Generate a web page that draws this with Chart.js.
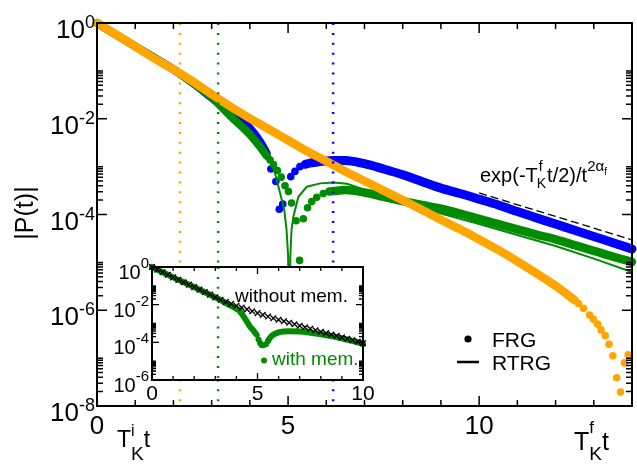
<!DOCTYPE html>
<html>
<head>
<meta charset="utf-8">
<script src="https://cdn.jsdelivr.net/npm/chart.js@4.4.0/dist/chart.umd.min.js"></script>
<style>
html, body { margin: 0; padding: 0; background: #fff; }
#wrap { position: relative; width: 637px; height: 464px; }
#main { position: absolute; left: 0; top: 0; }
#inset { position: absolute; left: 100px; top: 245px; }
</style>
</head>
<body>
<div id="wrap">
<canvas id="main" width="637" height="464"></canvas>
<canvas id="inset" width="285" height="165"></canvas>
</div>
<script>
// ---- main panel: |P(t)| after the quench, FRG (dots) and RTRG (lines)
const orangeBandT = [0, 0.5, 1, 1.5, 2, 2.5, 3, 3.5, 4, 4.5, 5, 5.5, 6, 6.5, 7, 7.5, 8, 8.5, 9, 9.5, 10, 10.5, 11, 11.5, 12, 12.5];
const orangeBandP = [1, 5.75e-1, 3.24e-1, 1.82e-1, 1.07e-1, 6.03e-2, 3.24e-2, 1.78e-2, 1.02e-2, 6.03e-3, 3.55e-3, 2.09e-3, 1.29e-3, 7.94e-4, 5.01e-4, 3.16e-4, 2.0e-4, 1.26e-4, 7.76e-5, 4.90e-5, 3.02e-5, 1.82e-5, 1.05e-5, 5.89e-6, 3.24e-6, 1.62e-6];
const orangeDotT = [12.6, 12.73, 12.89, 12.99, 13.1, 13.19, 13.3, 13.4, 13.5, 13.6, 13.7, 13.8, 13.9];
const orangeDotP = [1.38e-6, 1.10e-6, 7.94e-7, 6.46e-7, 5.13e-7, 3.89e-7, 2.95e-7, 1.95e-7, 1.12e-7, 3.89e-8, 1.95e-8, 7.94e-8, 1.17e-7];

const blueBandT = [0, 1, 2, 2.5, 3, 3.5, 4, 4.3, 4.44];
const blueBandP = [1, 3.24e-1, 1.07e-1, 5.62e-2, 2.75e-2, 1.35e-2, 6.31e-3, 3.02e-3, 1.91e-3];
const blueDotT = [4.55, 4.68, 4.77, 4.86, 5.07, 5.18, 5.31, 5.45];
const blueDotP = [8.91e-4, 4.90e-4, 1.29e-4, 1.66e-4, 6.17e-4, 7.94e-4, 1.0e-3, 1.12e-3];
const blueTailT = [5.45, 5.6, 5.8, 6.2, 6.5, 7, 7.5, 8, 8.5, 9, 9.5, 10, 10.5, 11, 11.5, 12, 12.5, 13, 13.5, 14];
const blueTailP = [1.12e-3, 1.20e-3, 1.26e-3, 1.35e-3, 1.35e-3, 1.15e-3, 8.91e-4, 6.76e-4, 4.90e-4, 3.55e-4, 2.75e-4, 2.09e-4, 1.58e-4, 1.15e-4, 8.51e-5, 6.31e-5, 4.68e-5, 3.47e-5, 2.57e-5, 1.91e-5];

const greenBandT = [0, 1, 2, 2.5, 3, 3.5, 4, 4.3, 4.45];
const greenBandP = [1, 3.24e-1, 1.07e-1, 5.62e-2, 2.82e-2, 1.12e-2, 4.68e-3, 2.40e-3, 1.66e-3];
const greenDotT = [4.53, 4.62, 4.72, 4.82, 4.92, 5.01, 5.09, 5.21, 5.3, 5.4, 5.51, 5.62, 5.75, 5.92, 6.08];
const greenDotP = [1.38e-3, 1.10e-3, 8.32e-4, 6.03e-4, 3.98e-4, 3.02e-4, 1.74e-4, 7.41e-5, 1.10e-5, 8.13e-5, 1.38e-4, 1.86e-4, 2.29e-4, 2.75e-4, 3.02e-4];
const greenTailT = [6.08, 6.2, 6.5, 7, 7.5, 8, 8.5, 9, 9.5, 10, 10.5, 11, 11.5, 12, 12.5, 13, 13.5, 14];
const greenTailP = [3.02e-4, 3.09e-4, 3.24e-4, 2.88e-4, 2.34e-4, 1.91e-4, 1.58e-4, 1.32e-4, 1.05e-4, 8.13e-5, 6.31e-5, 4.90e-5, 3.80e-5, 3.02e-5, 2.29e-5, 1.74e-5, 1.32e-5, 1.02e-5];

const greenLineT = [0, 1, 2, 3, 3.5, 4, 4.3, 4.53, 4.65, 4.75, 4.9, 4.96, 5.0, 5.03, 5.06, 5.09, 5.14, 5.27, 5.49, 5.84, 6.19, 6.54, 7, 7.5, 8, 9, 10, 11, 12, 13, 14];
const greenLineP = [1, 3.24e-1, 1.07e-1, 2.82e-2, 1.12e-2, 4.68e-3, 2.51e-3, 1.38e-3, 7.59e-4, 3.80e-4, 1.26e-4, 4.79e-5, 1.41e-5, 3.16e-7, 1.41e-5, 4.79e-5, 9.12e-5, 2.34e-4, 3.80e-4, 4.47e-4, 4.68e-4, 4.37e-4, 3.31e-4, 2.29e-4, 1.74e-4, 1.05e-4, 6.31e-5, 3.72e-5, 2.19e-5, 1.20e-5, 6.31e-6];

const redLineT = [0, 1, 2, 2.5, 3];
const redLineP = [1, 3.16e-1, 1.0e-1, 5.89e-2, 3.16e-2];

const quenchT = [2.17, 3.17, 6.18];
const quenchColors = ['#ffa500', '#008b00', '#0000ff'];

const guideT = [10, 14];
const guideP = [2.82e-4, 2.95e-5];

const mainXTicks = [0, 5, 10];
const mainYTicks = [0, -2, -4, -6, -8];

// ---- inset: with / without memory
const insetNoMemT = [0, 0.25, 0.5, 0.75, 1, 1.25, 1.5, 1.75, 2, 2.25, 2.5, 2.75, 3, 3.25, 3.5, 3.75, 4, 4.25, 4.5, 4.75, 5, 5.25, 5.5, 5.75, 6, 6.25, 6.5, 6.75, 7, 7.25, 7.5, 7.75, 8, 8.25, 8.5, 8.75, 9, 9.25, 9.5, 9.75, 10];
const insetNoMemP = [1, 7.24e-1, 5.25e-1, 3.89e-1, 2.82e-1, 2.09e-1, 1.55e-1, 1.15e-1, 8.51e-2, 6.31e-2, 4.68e-2, 3.39e-2, 2.45e-2, 1.82e-2, 1.41e-2, 1.10e-2, 8.71e-3, 6.92e-3, 5.62e-3, 4.47e-3, 3.55e-3, 2.88e-3, 2.34e-3, 1.91e-3, 1.58e-3, 1.32e-3, 1.10e-3, 9.12e-4, 7.59e-4, 6.31e-4, 5.25e-4, 4.37e-4, 3.63e-4, 3.09e-4, 2.57e-4, 2.19e-4, 1.82e-4, 1.55e-4, 1.29e-4, 1.10e-4, 9.12e-5];
const insetMemBandT = [0, 1, 2, 3, 3.25, 3.5, 4, 4.17, 4.5, 4.64, 4.8, 4.96];
const insetMemBandP = [1, 2.82e-1, 8.51e-2, 2.45e-2, 1.74e-2, 1.20e-2, 6.03e-3, 4.37e-3, 1.26e-3, 6.92e-4, 4.37e-4, 2.51e-4];
const insetMemDotT = [5.05, 5.12, 5.2, 5.27, 5.31, 5.4, 5.5];
const insetMemDotP = [1.41e-4, 9.12e-5, 7.08e-5, 6.92e-5, 1.10e-5, 7.94e-5, 1.20e-4];
const insetMemTailT = [5.5, 5.6, 5.75, 6, 6.22, 6.5, 7, 7.33, 8, 8.5, 8.91, 9.5, 10];
const insetMemTailP = [1.20e-4, 1.78e-4, 2.51e-4, 3.39e-4, 3.80e-4, 3.89e-4, 3.72e-4, 3.47e-4, 2.69e-4, 2.14e-4, 1.70e-4, 1.20e-4, 8.13e-5];
const insetQuenchT = 3.13;
const insetXTicks = [0, 5, 10];
const insetYTicks = [0, -2, -4, -6];

const ORANGE = '#ffa500', BLUE = '#0000ff', GREEN = '#008b00', RED = '#ff0000';
const FONT = '"Liberation Sans", Arial, sans-serif';

function pts(ts, ps) { return ts.map((t, i) => ({ x: t, y: ps[i] })); }

function band(ts, ps, color, w) {
  return { data: pts(ts, ps), showLine: true, borderColor: color, borderWidth: w,
    borderCapStyle: 'round', borderJoinStyle: 'round', cubicInterpolationMode: 'monotone',
    pointRadius: 0, clip: false };
}
function dots(ts, ps, color, r) {
  return { data: pts(ts, ps), showLine: false, pointRadius: r, pointBackgroundColor: color,
    pointBorderWidth: 0, clip: false };
}
function thin(ts, ps, color, w) {
  return { data: pts(ts, ps), showLine: true, borderColor: color, borderWidth: w,
    pointRadius: 0, tension: 0, clip: false };
}

// frame + inward ticks on all four sides
function drawBox(ctx, a, x, y, o) {
  ctx.strokeStyle = '#000';
  ctx.lineWidth = o.tickW;
  ctx.beginPath();
  for (let v = Math.ceil(x.min); v <= x.max; v++) {
    const px = x.getPixelForValue(v);
    const len = v % 5 === 0 ? o.major : o.minor;
    ctx.moveTo(px, a.bottom); ctx.lineTo(px, a.bottom - len);
    ctx.moveTo(px, a.top); ctx.lineTo(px, a.top + len);
  }
  for (let e = o.ymin; e <= o.ymax; e += 2) {
    const py = y.getPixelForValue(Math.pow(10, e));
    ctx.moveTo(a.left, py); ctx.lineTo(a.left + o.major, py);
    ctx.moveTo(a.right, py); ctx.lineTo(a.right - o.major, py);
    if (e < o.ymax) {
      for (let k = 2; k <= 10; k++) {
        const my = y.getPixelForValue(k * Math.pow(10, e));
        ctx.moveTo(a.left, my); ctx.lineTo(a.left + o.minor, my);
        ctx.moveTo(a.right, my); ctx.lineTo(a.right - o.minor, my);
      }
    }
  }
  ctx.stroke();
  ctx.lineWidth = o.frameW;
  ctx.strokeRect(a.left, a.top, a.right - a.left, a.bottom - a.top);
}

// "10" with exponent, right aligned at xr
function drawPow(ctx, xr, yc, e, big, small, baseDy, supDy) {
  ctx.textAlign = 'left';
  ctx.textBaseline = 'alphabetic';
  ctx.font = small + 'px ' + FONT;
  const sup = String(e);
  const sw = ctx.measureText(sup).width;
  ctx.fillText(sup, xr - sw, yc + supDy);
  ctx.font = big + 'px ' + FONT;
  const bw = ctx.measureText('10').width;
  ctx.fillText('10', xr - sw - bw, yc + baseDy);
}

// runs of text: [text, size, dy, advance?]
function drawRuns(ctx, x, y, runs) {
  ctx.textAlign = 'left';
  ctx.textBaseline = 'alphabetic';
  let cx = x;
  for (const r of runs) {
    ctx.font = r[1] + 'px ' + FONT;
    ctx.fillText(r[0], cx, y + r[2]);
    if (r[3] !== false) cx += ctx.measureText(r[0]).width;
  }
  return cx;
}

const mainDeco = {
  id: 'mainDeco',
  afterDraw(chart) {
    const { ctx, chartArea: a, scales: { x, y } } = chart;
    ctx.save();
    drawBox(ctx, a, x, y, { major: 10, minor: 6, tickW: 1.5, frameW: 2, ymin: -8, ymax: 0 });
    ctx.fillStyle = '#000';
    for (const e of mainYTicks) {
      drawPow(ctx, 95, y.getPixelForValue(Math.pow(10, e)), e, 26, 18, 15, 5);
    }
    ctx.font = '26px ' + FONT;
    ctx.textAlign = 'center';
    for (const v of mainXTicks) ctx.fillText(String(v), x.getPixelForValue(v), a.bottom + 28);

    // axis titles
    ctx.save();
    ctx.translate(26, 213);
    ctx.rotate(-Math.PI / 2);
    ctx.font = '25px ' + FONT;
    ctx.textAlign = 'center';
    ctx.textBaseline = 'middle';
    ctx.fillText('|P(t)|', 0, 0);
    ctx.restore();

    drawRuns(ctx, 117, 447, [['T', 23, 0], ['i', 16, -11, false], ['K', 19, 13], ['t', 23, 0]]);
    drawRuns(ctx, 574, 450, [['T', 25, 0], ['f', 17, -17, false], ['K', 19, 10], ['t', 25, 0]]);

    // guide label
    let cx = drawRuns(ctx, 480, 182, [['exp(-T', 20, 0]]);
    ctx.font = '14px ' + FONT;
    ctx.fillText('f', cx + 1, 171);
    ctx.fillText('K', cx - 1, 188);
    cx += ctx.measureText('K').width;
    cx = drawRuns(ctx, cx, 182, [['t/2)/t', 20, 0], ['2\u03b1', 15, -11]]);
    ctx.font = '10px ' + FONT;
    ctx.fillText('f', cx, 175);

    // legend
    ctx.fillStyle = '#000';
    ctx.beginPath();
    ctx.arc(468, 339, 3.6, 0, Math.PI * 2);
    ctx.fill();
    ctx.lineWidth = 2.5;
    ctx.beginPath();
    ctx.moveTo(457, 362); ctx.lineTo(479, 362);
    ctx.stroke();
    ctx.font = '21px ' + FONT;
    ctx.textAlign = 'left';
    ctx.fillText('FRG', 492, 347);
    ctx.fillText('RTRG', 492, 370);
    ctx.restore();
  }
};

const mainSets = [];
quenchT.forEach((t, i) => {
  mainSets.push({ data: [{ x: t, y: 1 }, { x: t, y: 1e-8 }], showLine: true, borderColor: quenchColors[i],
    borderWidth: 2.5, borderDash: [2, 7.9], pointRadius: 0, clip: false });
});
mainSets.push(dots(orangeDotT, orangeDotP, ORANGE, 3.8));
mainSets.push(band(orangeBandT, orangeBandP, ORANGE, 8.5));
mainSets.push(thin(redLineT, redLineP, RED, 2));
mainSets.push(thin(greenLineT, greenLineP, GREEN, 2));
mainSets.push(dots(greenDotT, greenDotP, GREEN, 3.8));
mainSets.push(band(greenBandT, greenBandP, GREEN, 8));
mainSets.push(band(greenTailT, greenTailP, GREEN, 8.5));
mainSets.push(dots(blueDotT, blueDotP, BLUE, 3.8));
mainSets.push(band(blueBandT, blueBandP, BLUE, 8));
mainSets.push(band(blueTailT, blueTailP, BLUE, 9));
mainSets.push({ data: pts(guideT, guideP), showLine: true, borderColor: '#000', borderWidth: 1.3,
  borderDash: [8, 4], pointRadius: 0 });

new Chart(document.getElementById('main'), {
  type: 'scatter',
  data: { datasets: mainSets },
  options: {
    responsive: false, devicePixelRatio: 1, animation: false, events: [],
    layout: { padding: { left: 97, right: 5, top: 23, bottom: 58 } },
    plugins: { legend: { display: false }, tooltip: { enabled: false } },
    scales: {
      x: { type: 'linear', min: 0, max: 14, display: false },
      y: { type: 'logarithmic', min: 1e-8, max: 1, display: false }
    }
  },
  plugins: [mainDeco]
});

const insetDeco = {
  id: 'insetDeco',
  beforeDatasetsDraw(chart) {
    const { ctx, chartArea: a } = chart;
    ctx.save();
    ctx.fillStyle = '#fff';
    ctx.fillRect(a.left - 1, a.top - 1, a.right - a.left + 2, a.bottom - a.top + 2);
    ctx.restore();
  },
  afterDraw(chart) {
    const { ctx, chartArea: a, scales: { x, y } } = chart;
    ctx.save();
    drawBox(ctx, a, x, y, { major: 7, minor: 4, tickW: 1.3, frameW: 2, ymin: -6, ymax: 0 });
    ctx.fillStyle = '#000';
    for (const e of insetYTicks) {
      drawPow(ctx, a.left - 3, y.getPixelForValue(Math.pow(10, e)), e, 20, 15, 12, 1);
    }
    ctx.font = '21px ' + FONT;
    ctx.textAlign = 'center';
    for (const v of insetXTicks) ctx.fillText(String(v), x.getPixelForValue(v), a.bottom + 20);
    ctx.textAlign = 'left';
    ctx.font = '19px ' + FONT;
    ctx.fillText('without mem.', a.left + 83, a.top + 35);
    ctx.fillStyle = GREEN;
    ctx.fillText('with mem.', a.left + 120, a.top + 98);
    ctx.restore();
  }
};

new Chart(document.getElementById('inset'), {
  type: 'scatter',
  data: {
    datasets: [
      { data: pts(insetNoMemT, insetNoMemP), showLine: false, pointStyle: 'crossRot', pointRadius: 4,
        borderColor: '#000', pointBorderWidth: 1.4, clip: false },
      dots(insetMemDotT, insetMemDotP, GREEN, 3),
      band(insetMemBandT, insetMemBandP, GREEN, 6),
      band(insetMemTailT, insetMemTailP, GREEN, 6),
      { data: [{ x: insetQuenchT, y: 1 }, { x: insetQuenchT, y: 1e-6 }], showLine: true, borderColor: GREEN,
        borderWidth: 2.5, borderDash: [2, 7.9], pointRadius: 0 }
    ]
  },
  options: {
    responsive: false, devicePixelRatio: 1, animation: false, events: [],
    layout: { padding: { left: 52, right: 22, top: 22, bottom: 30 } },
    plugins: { legend: { display: false }, tooltip: { enabled: false } },
    scales: {
      x: { type: 'linear', min: 0, max: 10, display: false },
      y: { type: 'logarithmic', min: 1e-6, max: 1, display: false }
    }
  },
  plugins: [insetDeco]
});
</script>
</body>
</html>
